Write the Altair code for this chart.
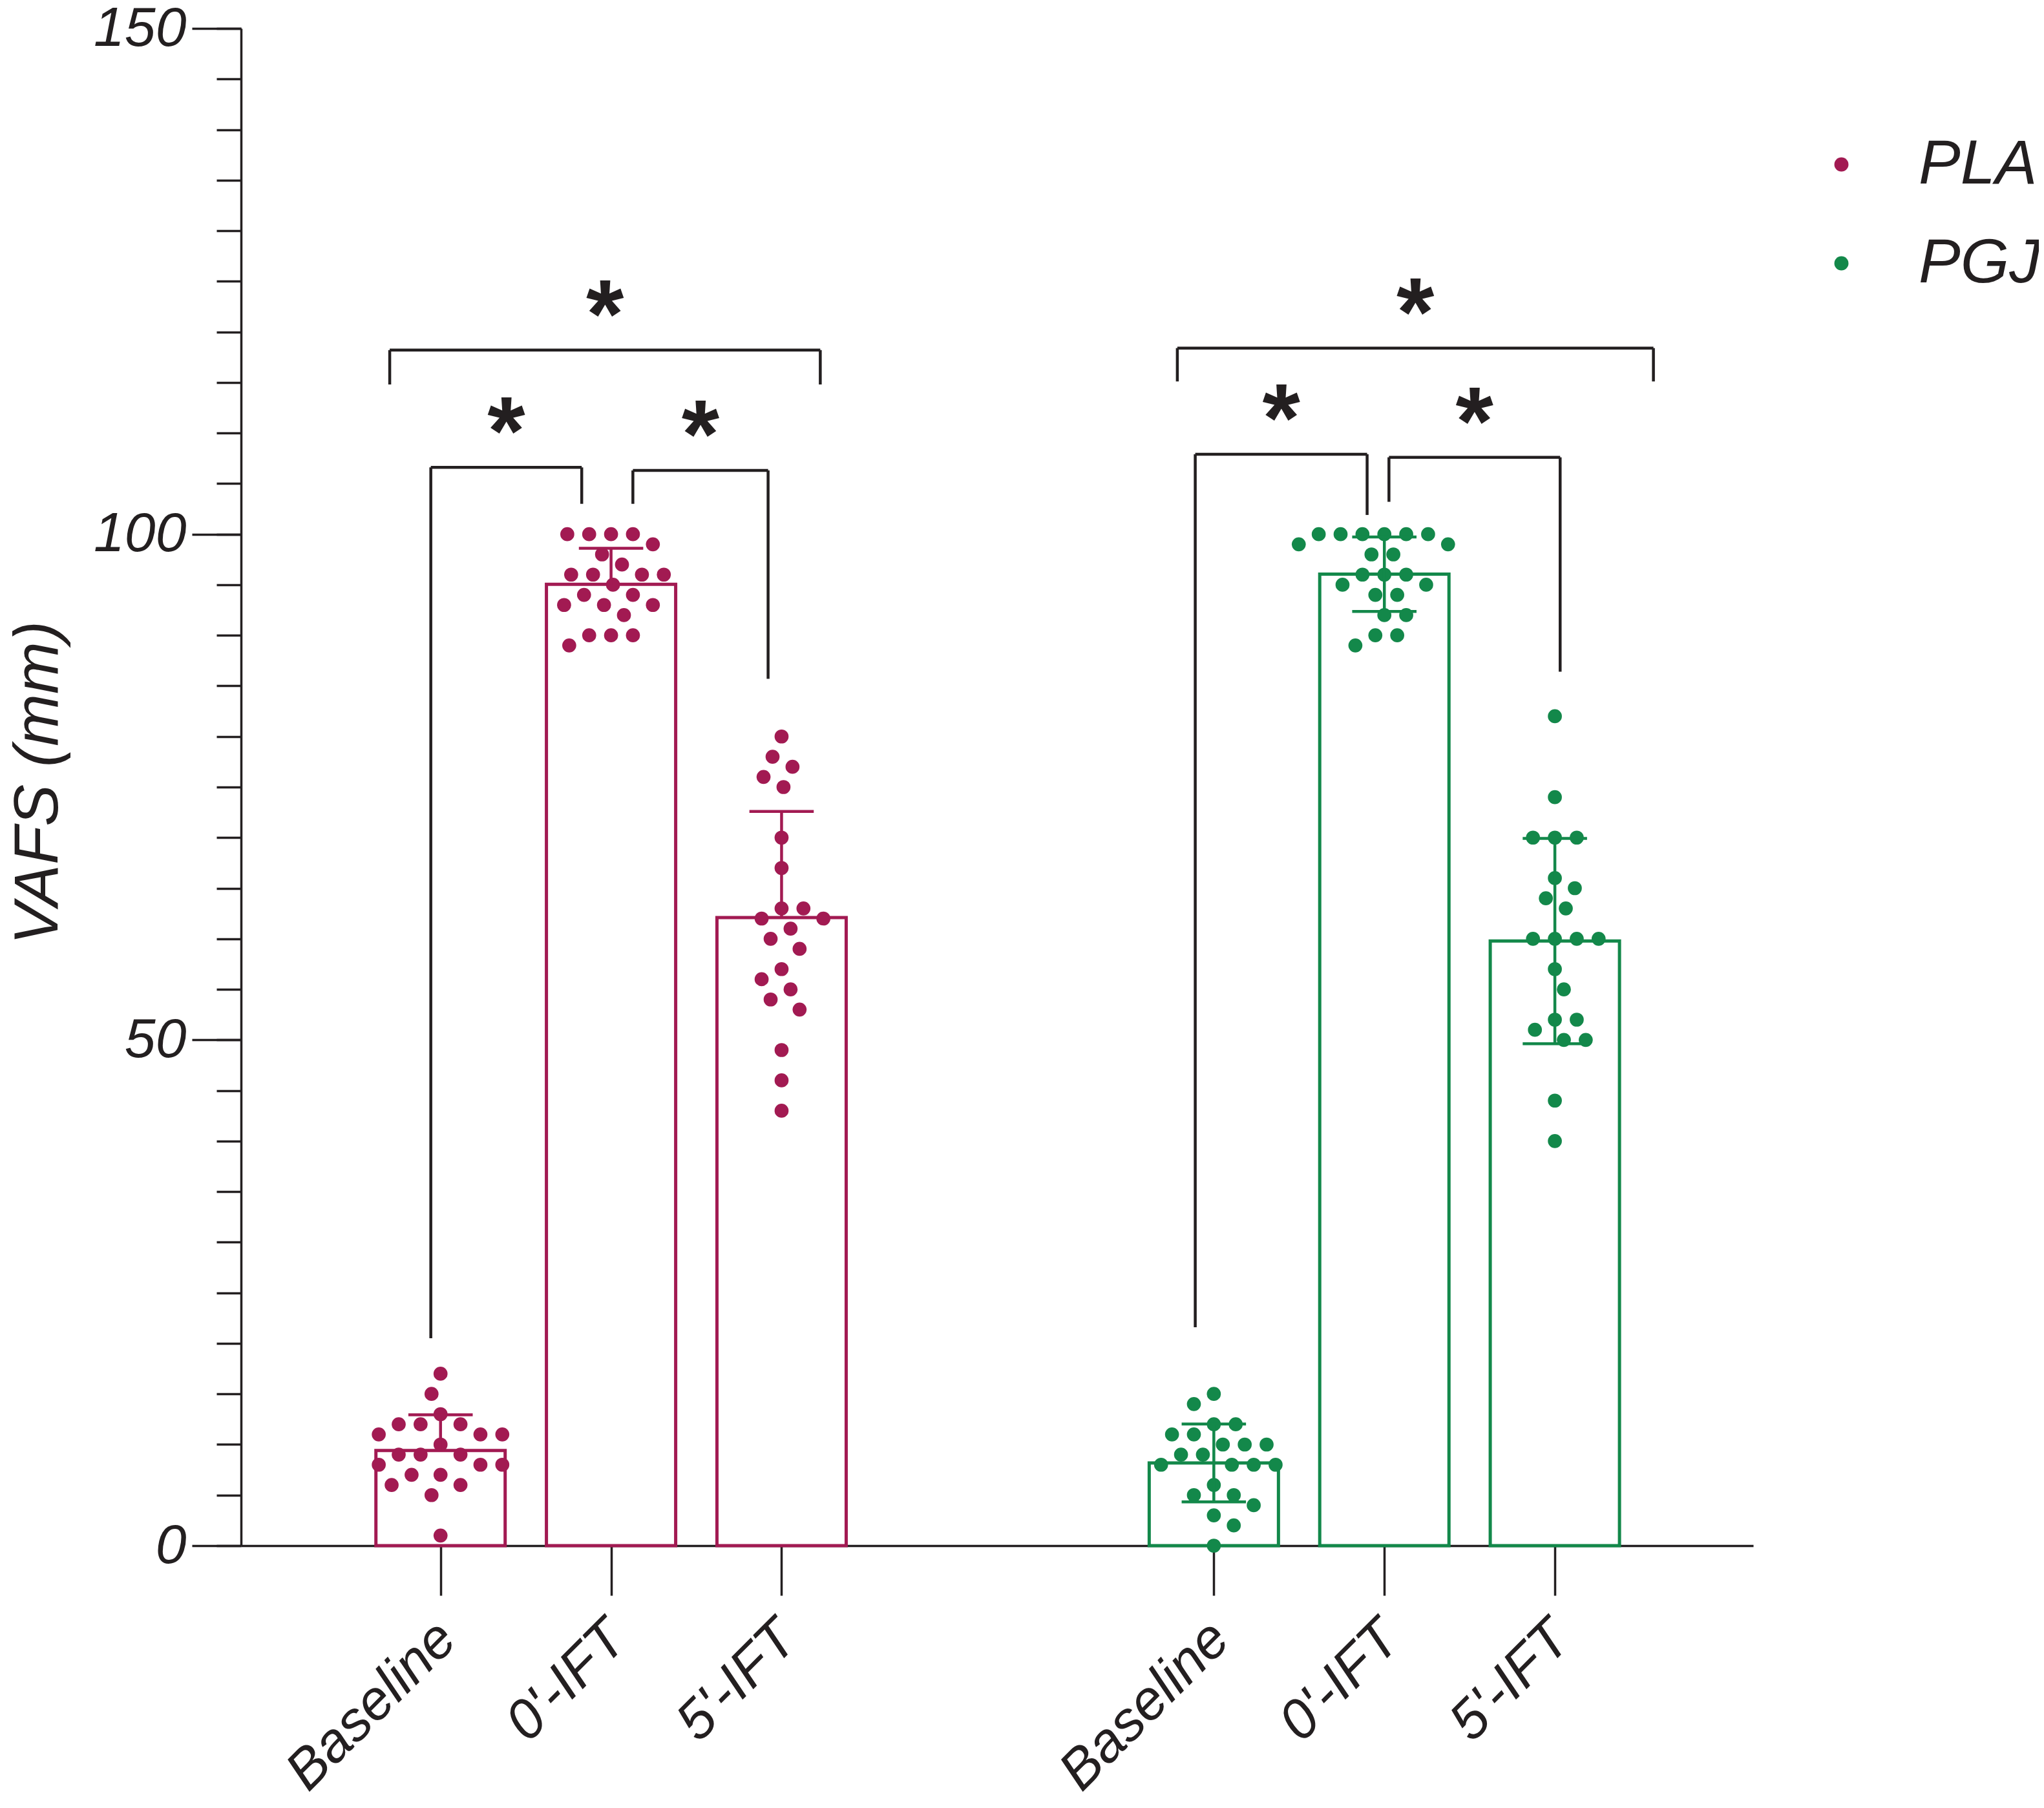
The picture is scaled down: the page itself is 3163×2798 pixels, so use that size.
import json
import pandas as pd
import altair as alt

# ---------------- data ----------------
GROUPS = ["PLA", "PGJ"]
TIMES = ["Baseline", "0'-IFT", "5'-IFT"]
COLORS = ["#A21A52", "#13884A"]
SD_BOTH_SIDES = [False, True]

PLA_BASELINE = [17, 15, 13, 12, 12, 12, 11, 11, 11, 10, 9, 9, 9, 8, 8, 8, 7, 7, 6, 6, 5, 1]
PLA_0IFT = [100, 100, 100, 100, 99, 98, 97, 96, 96, 96, 96, 95, 94, 94, 93, 93, 93, 92, 90, 90, 90, 89]
PLA_5IFT = [80, 78, 77, 76, 75, 70, 67, 63, 63, 62, 62, 61, 60, 59, 57, 56, 55, 54, 53, 49, 46, 43]
PGJ_BASELINE = [15, 14, 12, 12, 11, 11, 10, 10, 10, 9, 9, 8, 8, 8, 8, 6, 5, 5, 4, 3, 2, 0]
PGJ_0IFT = [100, 100, 100, 100, 100, 100, 99, 99, 98, 98, 96, 96, 96, 95, 95, 94, 94, 92, 92, 90, 90, 89]
PGJ_5IFT = [82, 74, 70, 70, 70, 66, 65, 64, 63, 60, 60, 60, 60, 57, 55, 52, 52, 51, 50, 50, 44, 40]

SERIES = [
    [PLA_BASELINE, PLA_0IFT, PLA_5IFT],
    [PGJ_BASELINE, PGJ_0IFT, PGJ_5IFT],
]

# significance brackets: (group, from time, to time, bracket level, leg bottom from, leg bottom to)
BRACKETS = [
    ("PLA", 0, 2, 118.2, 114.8, 114.8),
    ("PLA", 0, 1, 106.6, 20.5, 103.0),
    ("PLA", 1, 2, 106.3, 103.0, 85.7),
    ("PGJ", 0, 2, 118.4, 115.1, 115.1),
    ("PGJ", 0, 1, 107.9, 21.6, 101.9),
    ("PGJ", 1, 2, 107.6, 103.2, 86.4),
]
# horizontal offsets of bracket ends from the category centre (in category slots)
BRACKET_OFFSETS = [
    (-0.298, 0.227),
    (-0.057, -0.172),
    (0.128, -0.079),
    (-0.214, 0.578),
    (-0.109, -0.101),
    (0.027, 0.031),
]

# ---------------- layout ----------------
SLOT_PX = 265
PLOT_W = 2340
PLOT_H = 2348
Y_MAX = 150
X_MAX = PLOT_W / SLOT_PX
GROUP_START = [1.151, 5.686]
DOT_MIN_DIST = 34.0
BAR_PX = 200
CAP_HALF = 50 / SLOT_PX
INK = "#231F20"
FONT = "Liberation Sans"

y_px_per_unit = PLOT_H / Y_MAX


def swarm(vals):
    placed = []
    offs = [0.0] * len(vals)
    order = sorted(range(len(vals)), key=lambda i: -vals[i])
    for n, i in enumerate(order):
        y = vals[i] * y_px_per_unit
        sign = 1 if n % 2 == 0 else -1
        found = None
        for k in range(0, 400):
            cands = [0] if k == 0 else [sign * k, -sign * k]
            for c in cands:
                if all((c - px) ** 2 + (y - py) ** 2 >= DOT_MIN_DIST ** 2 for px, py in placed):
                    found = c
                    break
            if found is not None:
                break
        placed.append((found, y))
        offs[i] = found / SLOT_PX
    return offs


centers = {}
rows = []
for g, grp in enumerate(GROUPS):
    for t, tm in enumerate(TIMES):
        c = round(GROUP_START[g] + t, 3)
        centers[(grp, t)] = c
        vals = SERIES[g][t]
        offs = swarm(vals)
        for v, o in zip(vals, offs):
            rows.append({"group": grp, "time": tm, "center": c, "value": v,
                         "x": c + o, "both": SD_BOTH_SIDES[g]})
dots = pd.DataFrame(rows)

seg_rows, star_rows = [], []
for (grp, a, b, lvl, ba, bb), (oa, ob) in zip(BRACKETS, BRACKET_OFFSETS):
    xa = centers[(grp, a)] + oa
    xb = centers[(grp, b)] + ob
    seg_rows.append({"x": xa, "x2": xb, "y": lvl, "y2": lvl})
    seg_rows.append({"x": xa, "x2": xa, "y": lvl, "y2": ba})
    seg_rows.append({"x": xb, "x2": xb, "y": lvl, "y2": bb})
    star_rows.append({"x": (xa + xb) / 2, "y": lvl})
segs = pd.DataFrame(seg_rows)
stars = pd.DataFrame(star_rows)

tick_values = [centers[(grp, t)] for grp in GROUPS for t in range(len(TIMES))]
tick_labels = [TIMES[t] for grp in GROUPS for t in range(len(TIMES))]
label_expr = " : ".join(
    f"abs(datum.value - {v}) < 0.01 ? {json.dumps(l)}" for v, l in zip(tick_values, tick_labels)
) + " : ''"

xscale = alt.Scale(domain=[0, X_MAX], nice=False, zero=False)
yscale = alt.Scale(domain=[0, Y_MAX], nice=False, zero=True)
cscale = alt.Scale(domain=GROUPS, range=COLORS)

x_axis = alt.Axis(values=tick_values, labelExpr=label_expr, title=None, grid=False,
                  orient="bottom",
                  tickSize=77, tickWidth=3.5, tickColor=INK, domainWidth=3.5, domainColor=INK,
                  labelAngle=-45, labelFont=FONT, labelFontSize=86,
                  labelFontStyle="italic", labelColor=INK, labelLimit=2000,
                  labelPadding=24, labelOffset=-20, labelOverlap=False)

legend = alt.Legend(
    title=None, orient="none", legendX=2428, legendY=162, symbolType="circle",
    symbolSize=480, symbolStrokeWidth=0, labelFont=FONT, labelFontSize=97,
    labelFontStyle="italic", labelColor=INK, labelOffset=71, rowPadding=55, padding=0,
    labelLimit=2000,
)

y_major = alt.Axis(values=[0, 50, 100, 150], orient="left", grid=False,
                   tickSize=76, tickWidth=3.5, tickColor=INK, domainWidth=3.5, domainColor=INK,
                   labelFont=FONT, labelFontSize=86, labelFontStyle="italic", labelColor=INK,
                   labelPadding=9, title="VAFS (mm)", titleFont=FONT, titleFontSize=97,
                   titleFontStyle="italic", titleFontWeight="normal", titleColor=INK,
                   titleAngle=-90, titleAlign="center", titleBaseline="alphabetic",
                   titleX=-285, titleY=PLOT_H / 2 - 7)

y_minor = alt.Axis(values=list(range(0, Y_MAX + 1, 5)), orient="left", grid=False,
                   tickSize=38, tickWidth=3.5, tickColor=INK, domain=False, labels=False,
                   title=None)

base = alt.Chart(dots)

stats = base.transform_aggregate(
    mean="mean(value)", sd="stdev(value)", groupby=["group", "time", "center", "both"]
).transform_calculate(
    hi="datum.mean + datum.sd",
    lo="datum.both ? datum.mean - datum.sd : datum.mean",
    xl=f"datum.center - {CAP_HALF}",
    xr=f"datum.center + {CAP_HALF}",
)

bars = stats.mark_bar(size=BAR_PX, fill="white", strokeWidth=5).encode(
    x=alt.X("center:Q", scale=xscale, axis=x_axis),
    y=alt.Y("mean:Q", scale=yscale, axis=y_major),
    stroke=alt.Stroke("group:N", scale=cscale, legend=legend),
)

points = base.mark_circle(size=470, opacity=1).encode(
    x=alt.X("x:Q", scale=xscale, axis=x_axis),
    y=alt.Y("value:Q", scale=yscale, axis=y_minor),
    color=alt.Color("group:N", scale=cscale, legend=legend),
)

stems = stats.mark_rule(strokeWidth=4.5).encode(
    x=alt.X("center:Q", scale=xscale, axis=x_axis),
    y=alt.Y("lo:Q", scale=yscale, axis=None),
    y2="hi:Q",
    color=alt.Color("group:N", scale=cscale, legend=legend),
)

caps_hi = stats.mark_rule(strokeWidth=4.5).encode(
    x=alt.X("xl:Q", scale=xscale, axis=x_axis),
    x2="xr:Q",
    y=alt.Y("hi:Q", scale=yscale, axis=None),
    color=alt.Color("group:N", scale=cscale, legend=legend),
)

caps_lo = stats.transform_filter("datum.both").mark_rule(strokeWidth=4.5).encode(
    x=alt.X("xl:Q", scale=xscale, axis=x_axis),
    x2="xr:Q",
    y=alt.Y("lo:Q", scale=yscale, axis=None),
    color=alt.Color("group:N", scale=cscale, legend=legend),
)

brackets = alt.Chart(segs).mark_rule(color=INK, strokeWidth=4.5).encode(
    x=alt.X("x:Q", scale=xscale, axis=x_axis),
    x2="x2:Q",
    y=alt.Y("y:Q", scale=yscale, axis=None),
    y2="y2:Q",
)

star_text = alt.Chart(stars).mark_text(
    text="*", font=FONT, fontSize=150, fontWeight="bold", color=INK,
    baseline="alphabetic", align="center", dy=-4,
).encode(
    x=alt.X("x:Q", scale=xscale, axis=x_axis),
    y=alt.Y("y:Q", scale=yscale, axis=None),
)

chart = alt.layer(
    bars, points, stems, caps_hi, caps_lo, brackets, star_text
).resolve_axis(y="independent").properties(
    width=PLOT_W, height=PLOT_H,
    autosize=alt.AutoSizeParams(type="none"),
    padding={"left": 365, "top": 36, "right": 442, "bottom": 396},
).configure_view(stroke=None)

chart.save("out.html", embed_options={"renderer": "svg", "actions": False})
